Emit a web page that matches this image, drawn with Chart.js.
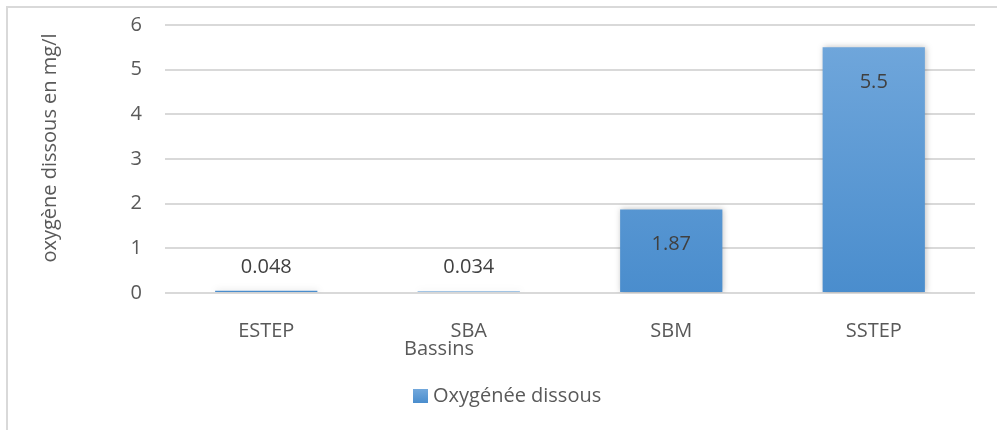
<!DOCTYPE html>
<html>
<head>
<meta charset="utf-8">
<script src="https://cdn.jsdelivr.net/npm/chart.js@4/dist/chart.umd.min.js"></script>
<style>
  html, body { margin: 0; padding: 0; background: #ffffff; }
  #wrap { position: relative; width: 997px; height: 430px; }
</style>
</head>
<body>
<div id="wrap"><canvas id="chart" width="997" height="430"></canvas></div>
<script>
// Dissolved oxygen per basin
const categories = ['ESTEP', 'SBA', 'SBM', 'SSTEP'];
const oxygenValues = [0.048, 0.034, 1.87, 5.5];
const yTicks = [0, 1, 2, 3, 4, 5, 6];
const seriesName = 'Oxygénée dissous';
const xTitle = 'Bassins';
const yTitle = 'oxygène dissous en mg/l';

const FONT = "'Open Sans', 'Noto Sans', sans-serif";
const TEXT = '#595959';

// Vertical blue gradient for the bars
function barFill(ctx) {
  const area = ctx.chart.chartArea;
  if (!area) return '#5b9bd5';
  const g = ctx.chart.ctx.createLinearGradient(0, area.top, 0, area.bottom);
  g.addColorStop(0, '#72a8dc');
  g.addColorStop(1, '#4a8dcd');
  return g;
}

// Soft shadow behind the bars
const barShadow = {
  id: 'barShadow',
  beforeDatasetsDraw(chart) {
    const c = chart.ctx;
    c.save();
    c.shadowColor = 'rgba(0,0,0,0.25)';
    c.shadowBlur = 6;
    c.shadowOffsetX = 1;
    c.shadowOffsetY = 0;
  },
  afterDatasetsDraw(chart) { chart.ctx.restore(); }
};

// Frame, axis titles, value labels and legend
const decorations = {
  id: 'decorations',
  beforeDraw(chart) {
    const c = chart.ctx;
    c.save();
    c.strokeStyle = '#d9d9d9';
    c.lineWidth = 2;
    c.beginPath();
    c.moveTo(7, 430);
    c.lineTo(7, 7);
    c.lineTo(997, 7);
    c.stroke();
    c.restore();
  },
  afterDraw(chart) {
    const c = chart.ctx;
    const meta = chart.getDatasetMeta(0);
    c.save();
    c.font = '20px ' + FONT;
    c.textAlign = 'center';
    c.textBaseline = 'middle';
    c.fillStyle = '#404040';
    meta.data.forEach((bar, i) => {
      const v = oxygenValues[i];
      const h = bar.base - bar.y;
      const y = h > 60 ? bar.y + 35 : bar.y - 24;
      c.fillText(String(v), bar.x, y);
    });

    // x axis title
    c.fillStyle = TEXT;
    c.fillText(xTitle, 439, 349);

    // y axis title
    c.save();
    c.translate(50, 148);
    c.rotate(-Math.PI / 2);
    c.fillText(yTitle, 0, 0);
    c.restore();

    // legend
    const lg = c.createLinearGradient(0, 389, 0, 403);
    lg.addColorStop(0, '#72a8dc');
    lg.addColorStop(1, '#4a8dcd');
    c.fillStyle = lg;
    c.fillRect(413, 389, 15, 14);
    c.fillStyle = TEXT;
    c.textAlign = 'left';
    c.fillText(seriesName, 433, 396);
    c.restore();
  }
};

new Chart(document.getElementById('chart'), {
  type: 'bar',
  data: {
    labels: categories,
    datasets: [{
      label: seriesName,
      data: oxygenValues,
      backgroundColor: barFill,
      borderWidth: 0,
      categoryPercentage: 1,
      barPercentage: 0.505
    }]
  },
  options: {
    responsive: false,
    animation: false,
    devicePixelRatio: 1,
    layout: { padding: { left: 0, top: 25, right: 22, bottom: 0 } },
    plugins: {
      legend: { display: false },
      tooltip: { enabled: false }
    },
    scales: {
      x: {
        grid: { display: false },
        border: { display: false },
        ticks: { color: TEXT, font: { family: FONT, size: 20 }, padding: 18 },
        afterFit(scale) { scale.height = 137; }
      },
      y: {
        min: 0,
        max: 6,
        afterBuildTicks(scale) { scale.ticks = yTicks.map(v => ({ value: v })); },
        grid: { color: '#d9d9d9', lineWidth: 2, drawTicks: false },
        border: { display: false },
        ticks: { color: TEXT, font: { family: FONT, size: 20 }, padding: 23 },
        afterFit(scale) {
          scale.width = 165;
          scale.paddingTop = 0;
          scale.paddingBottom = 0;
        }
      }
    }
  },
  plugins: [barShadow, decorations]
});
</script>
</body>
</html>
